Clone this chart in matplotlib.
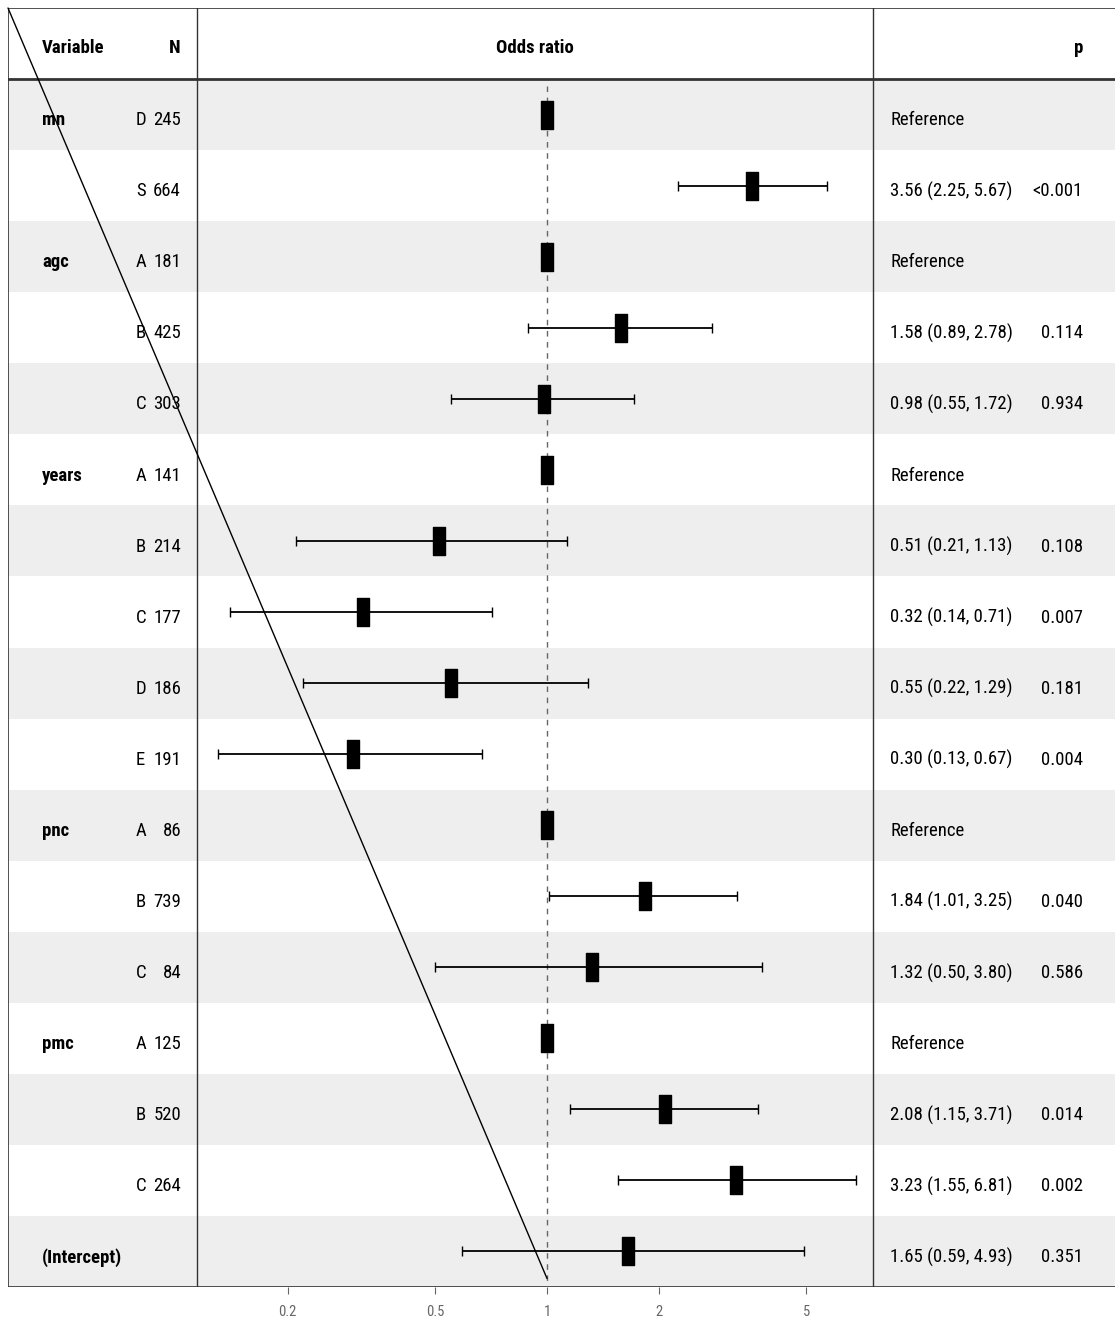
import numpy as np
import matplotlib.pyplot as plt
from matplotlib.path import Path
from matplotlib.patches import ConnectionPatch

# Data
variables = ['mn', '', 'agc', '', '', 'years', '', '', '', '', 'pnc', '', '', 'pmc', '', '', '(Intercept)']
levels = ['D', 'S', 'A', 'B', 'C', 'A', 'B', 'C', 'D', 'E', 'A', 'B', 'C', 'A', 'B', 'C', '']
n_obs = ['245', '664', '181', '425', '303', '141', '214', '177', '186', '191', '86', '739', '84', '125', '520', '264', '']
est = [1, 3.56, 1, 1.58, 0.98, 1, 0.51, 0.32, 0.55, 0.30, 1, 1.84, 1.32, 1, 2.08, 3.23, 1.65]
lo = [np.nan, 2.25, np.nan, 0.89, 0.55, np.nan, 0.21, 0.14, 0.22, 0.13, np.nan, 1.01, 0.50, np.nan, 1.15, 1.55, 0.59]
hi = [np.nan, 5.67, np.nan, 2.78, 1.72, np.nan, 1.13, 0.71, 1.29, 0.67, np.nan, 3.25, 3.80, np.nan, 3.71, 6.81, 4.93]
pvals = ['', '<0.001', '', '0.114', '0.934', '', '0.108', '0.007', '0.181', '0.004', '', '0.040', '0.586', '', '0.014', '0.002', '0.351']
xticks = [0.2, 0.5, 1, 2, 5]
xticklabels = ['0.2', '0.5', '1', '2', '5']

plt.rcParams['font.family'] = ['Roboto Condensed', 'Liberation Sans', 'DejaVu Sans']

W, H = 1115, 1326
fig = plt.figure(figsize=(W / 100, H / 100), dpi=100)

top, bottom, left, right = 8, 1287, 8, 1115
x_split1, x_split2 = 197, 873
nrow = len(est)

# table axes in pixel x-coords, row y-coords
tab = fig.add_axes([left / W, 1 - bottom / H, (right - left) / W, (bottom - top) / H])
tab.set_xlim(left, right)
tab.set_ylim(nrow - 0.5, -1.5)
tab.axis('off')

for i in range(nrow):
    if i % 2 == 0:
        tab.axhspan(i - 0.5, i + 0.5, color='#eeeeee', lw=0, zorder=0)

fs = 13.5
hy = -0.94
tab.text(42, hy, 'Variable', fontsize=fs, fontweight='bold', ha='left', va='center')
tab.text(181, hy, 'N', fontsize=fs, fontweight='bold', ha='right', va='center')
tab.text(535, hy, 'Odds ratio', fontsize=fs, fontweight='bold', ha='center', va='center')
tab.text(1083, hy, 'p', fontsize=fs, fontweight='bold', ha='right', va='center')

for i in range(nrow):
    y = i + 0.08
    if variables[i]:
        tab.text(42, y, variables[i], fontsize=fs, fontweight='bold', ha='left', va='center')
    if levels[i]:
        tab.text(136, y, levels[i], fontsize=fs, ha='left', va='center')
    if n_obs[i]:
        tab.text(181, y, n_obs[i], fontsize=fs, ha='right', va='center')
    if np.isnan(lo[i]):
        lab = 'Reference'
    else:
        lab = f'{est[i]:.2f} ({lo[i]:.2f}, {hi[i]:.2f})'
    tab.text(890, y, lab, fontsize=fs, ha='left', va='center')
    if pvals[i]:
        tab.text(1083, y, pvals[i], fontsize=fs, ha='right', va='center')

# frame lines
lc = '#333333'
tab.axhline(-1.5, color=lc, lw=1.2)
tab.axhline(nrow - 0.5, color=lc, lw=1.2)
tab.axhline(-0.5, color=lc, lw=2)
tab.axvline(left, color=lc, lw=1.2)
tab.axvline(x_split1, color=lc, lw=1.0)
tab.axvline(x_split2, color=lc, lw=1.0)

# forest axes
ppd = 371.0
x_one = 547
xmin = 10 ** ((x_split1 - x_one) / ppd)
xmax = 10 ** ((x_split2 - x_one) / ppd)
ax = fig.add_axes([x_split1 / W, 1 - bottom / H, (x_split2 - x_split1) / W, (bottom - top) / H])
ax.patch.set_alpha(0)
ax.set_xscale('log')
ax.set_xlim(xmin, xmax)
ax.set_ylim(nrow - 0.5, -1.5)
for s in ax.spines.values():
    s.set_visible(False)
ax.set_yticks([])
ax.set_xticks(xticks)
ax.set_xticklabels(xticklabels)
ax.minorticks_off()
ax.tick_params(axis='x', length=5, color='#666666', labelsize=10.5, labelcolor='#666666', pad=8)

# reference line at OR = 1, below the header only
ax.plot([1, 1], [-0.4, nrow - 0.5], color='#666666', ls=(0, (4, 4)), lw=1, zorder=1)

rows = np.arange(nrow)
est_a = np.array(est, dtype=float)
lo_a = np.array(lo, dtype=float)
hi_a = np.array(hi, dtype=float)
m = ~np.isnan(lo_a)
ax.errorbar(est_a[m], rows[m], xerr=[est_a[m] - lo_a[m], hi_a[m] - est_a[m]],
            fmt='none', ecolor='black', elinewidth=1.3, capsize=3.6, capthick=1.0, zorder=2)
box = Path([(-0.21, -0.5), (0.21, -0.5), (0.21, 0.5), (-0.21, 0.5), (-0.21, -0.5)],
           [Path.MOVETO, Path.LINETO, Path.LINETO, Path.LINETO, Path.CLOSEPOLY])
ax.plot(est_a, rows, ls='none', marker=box, markersize=20, color='black', zorder=3)

# diagonal line from top-left corner to OR = 1 at the bottom
con = ConnectionPatch(xyA=(0, 1), coordsA=tab.transAxes, xyB=(1, nrow - 0.62), coordsB=ax.transData,
                      color='black', lw=1.0)
fig.add_artist(con)

fig.savefig('out.png', dpi=100)
